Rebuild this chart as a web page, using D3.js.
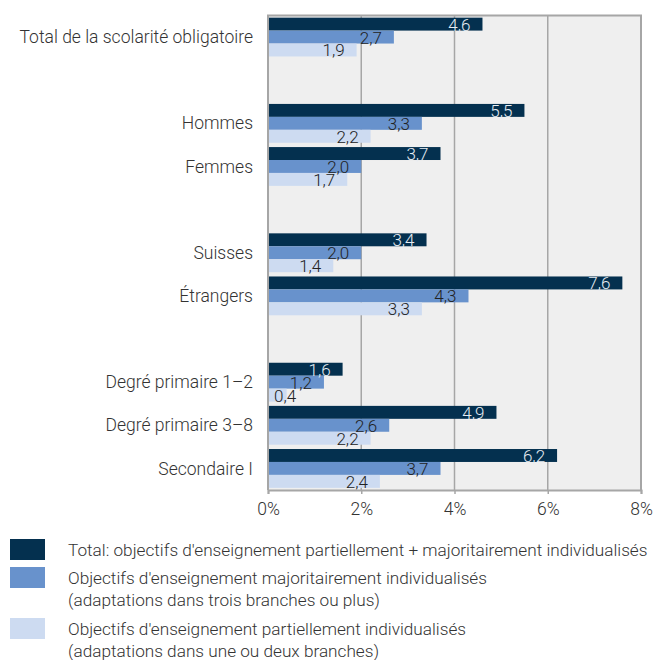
<!DOCTYPE html>
<html>
<head>
<meta charset="utf-8">
<script src="https://cdn.jsdelivr.net/npm/d3@7"></script>
<style>
  body { margin: 0; background: #fff; }
  text { font-family: Roboto, "Noto Sans", sans-serif; font-weight: 300; fill: #333; }
</style>
</head>
<body>
<div id="chart"></div>
<script>
// values (in %)
var categories = ["Total de la scolarité obligatoire", "Hommes", "Femmes", "Suisses", "Étrangers",
  "Degré primaire 1–2", "Degré primaire 3–8", "Secondaire I"];
// row slots, blank gaps between groups
var slots = ["Total de la scolarité obligatoire", "gap1", "Hommes", "Femmes", "gap2", "Suisses", "Étrangers",
  "gap3", "Degré primaire 1–2", "Degré primaire 3–8", "Secondaire I"];
var totalValues = [4.6, 5.5, 3.7, 3.4, 7.6, 1.6, 4.9, 6.2];
var majValues   = [2.7, 3.3, 2.0, 2.0, 4.3, 1.2, 2.6, 3.7];
var partValues  = [1.9, 2.2, 1.7, 1.4, 3.3, 0.4, 2.2, 2.4];
var xTicks = [0, 2, 4, 6, 8];
var seriesNames = ["Total: objectifs d'enseignement partiellement + majoritairement individualisés",
  "Objectifs d'enseignement majoritairement individualisés\n(adaptations dans trois branches ou plus)",
  "Objectifs d'enseignement partiellement individualisés\n(adaptations dans une ou deux branches)"];
var colors = ["#04304f", "#6892cc", "#cddbf1"];
var labelColors = ["#e6ecf3", "#222", "#222"];

var width = 654, height = 660;
var margin = {left: 268, top: 15.5, right: 13, bottom: 170};

var svg = d3.select("#chart").append("svg")
  .attr("width", width)
  .attr("height", height);

var x = d3.scaleLinear()
  .domain([0, 8])
  .range([margin.left, width - margin.right]);

var y = d3.scaleBand()
  .domain(slots)
  .range([margin.top, height - margin.bottom])
  .paddingInner(0.1)
  .paddingOuter(0.05);

var inner = d3.scaleBand()
  .domain([0, 1, 2])
  .range([0, y.bandwidth()]);

// background
svg.append("rect")
  .attr("x", x(0))
  .attr("y", margin.top)
  .attr("width", x(8) - x(0))
  .attr("height", height - margin.bottom - margin.top)
  .attr("fill", "#efefef");

// grid
svg.selectAll(".grid")
  .data(xTicks.slice(1))
  .enter().append("line")
  .attr("x1", function(d) { return x(d); })
  .attr("x2", function(d) { return x(d); })
  .attr("y1", margin.top)
  .attr("y2", height - margin.bottom)
  .style("stroke", "#a6a6a6")
  .style("stroke-width", "1.5px");

var rows = categories.map(function(c, i) {
  return {name: c, values: [totalValues[i], majValues[i], partValues[i]]};
});

var g = svg.selectAll(".row")
  .data(rows)
  .enter().append("g")
  .attr("transform", function(d) { return "translate(0," + y(d.name) + ")"; });

g.selectAll("rect")
  .data(function(d) { return d.values; })
  .enter().append("rect")
  .attr("x", x(0))
  .attr("y", function(d, i) { return inner(i); })
  .attr("width", function(d) { return x(d) - x(0); })
  .attr("height", inner.bandwidth())
  .attr("fill", function(d, i) { return colors[i]; });

g.selectAll(".val")
  .data(function(d) { return d.values; })
  .enter().append("text")
  .attr("class", "val")
  .attr("x", function(d) { return x(d) - 12; })
  .attr("y", function(d, i) { return inner(i) + inner.bandwidth() / 2 + 0.5; })
  .attr("dy", "0.35em")
  .attr("text-anchor", "end")
  .style("font-size", "17px")
  .style("fill", function(d, i) { return labelColors[i]; })
  .text(function(d) { return d.toFixed(1).replace(".", ","); })
  .each(function(d) {
    // keep small labels inside the plot
    var w = this.getComputedTextLength();
    if (x(d) - 12 - w < x(0) + 6) {
      d3.select(this).attr("text-anchor", "start").attr("x", x(0) + 6);
    }
  });

// category labels
svg.selectAll(".cat")
  .data(categories)
  .enter().append("text")
  .attr("x", x(0) - 15)
  .attr("y", function(d) { return y(d) + y.bandwidth() / 2; })
  .attr("dy", "0.35em")
  .attr("text-anchor", "end")
  .style("font-size", "17.5px")
  .text(function(d) { return d; });

// border
svg.append("path")
  .attr("d", "M" + x(0) + "," + (height - margin.bottom) + "V" + margin.top + "H" + x(8) + "V" + (height - margin.bottom))
  .attr("fill", "none")
  .style("stroke", "#a6a6a6")
  .style("stroke-width", "2px");

// x axis
var axis = svg.append("g")
  .attr("transform", "translate(0," + (height - margin.bottom) + ")")
  .call(d3.axisBottom(x).tickValues(xTicks).tickSize(4).tickPadding(9)
    .tickFormat(function(d) { return d + "%"; }));
axis.select(".domain").style("stroke", "#a6a6a6").style("stroke-width", "2px");
axis.selectAll(".tick line").style("stroke", "#a6a6a6").style("stroke-width", "1.5px");
axis.selectAll(".tick text").style("font-size", "17.5px").style("font-family", "Roboto, sans-serif")
  .style("font-weight", 300).style("fill", "#333");

// legend
var legendY = [539, 567, 618];
var legend = svg.selectAll(".legend")
  .data(seriesNames)
  .enter().append("g")
  .attr("transform", function(d, i) { return "translate(10," + legendY[i] + ")"; });

legend.append("rect")
  .attr("width", 35)
  .attr("height", 21)
  .attr("fill", function(d, i) { return colors[i]; });

legend.append("text")
  .attr("x", 58)
  .attr("y", 11)
  .style("font-size", "17.2px")
  .selectAll("tspan")
  .data(function(d) { return d.split("\n"); })
  .enter().append("tspan")
  .attr("x", 58)
  .attr("dy", function(d, i) { return i === 0 ? "0.35em" : "22px"; })
  .text(function(d) { return d; });
</script>
</body>
</html>
